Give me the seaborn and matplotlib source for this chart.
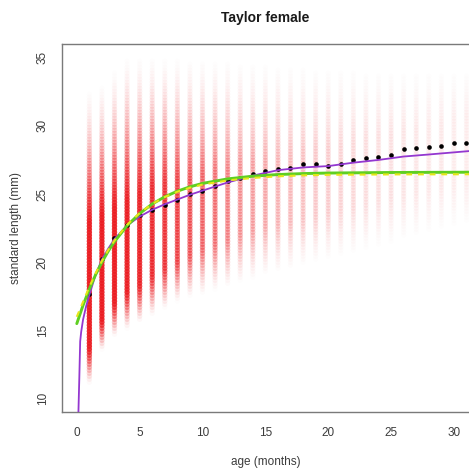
import numpy as np
import pandas as pd
import matplotlib
matplotlib.use("Agg")
import matplotlib.pyplot as plt
import seaborn as sns

# ---- data -------------------------------------------------------------
# mean standard length (mm) at each age (months)
mean_age = list(range(1, 32))
mean_length = [17.7, 20.25, 21.77, 22.7, 23.45, 23.8, 24.22, 24.6, 24.98, 25.23,
               25.6, 25.92, 26.21, 26.46, 26.72, 26.87, 26.94, 27.21, 27.19, 27.09,
               27.19, 27.48, 27.65, 27.75, 27.85, 28.31, 28.41, 28.48, 28.53, 28.77,
               28.73]

# spread of individual lengths at each age: faint lower end, dense core
# (lower, upper), faint upper end, and density of the core
band_age = list(range(1, 32))
band_low = [11.0, 13.5, 14.5, 15.0, 15.5, 16.0, 16.5, 17.0, 17.3, 17.5, 17.8, 18.0,
            18.3, 18.5, 18.8, 19.0, 19.2, 19.4, 19.6, 19.8, 20.0, 20.2, 20.4, 20.6,
            20.8, 21.0, 21.2, 21.4, 21.6, 21.8, 22.0]
core_low = [13.7, 15.7, 17.0, 17.8, 18.3, 19.0, 19.5, 20.0, 20.5, 21.0, 21.3, 21.6,
            22.0, 22.3, 22.6, 22.8, 23.0, 23.2, 23.4, 23.6, 23.8, 24.0, 24.2, 24.4,
            24.6, 24.8, 25.0, 25.2, 25.4, 25.6, 25.8]
core_high = [23.0, 23.5, 24.0, 24.5, 25.0, 25.5, 25.8, 26.0, 26.2, 26.4, 26.6, 26.8,
             27.0, 27.2, 27.4, 27.6, 27.8, 28.0, 28.2, 28.4, 28.6, 28.8, 29.0, 29.2,
             29.4, 29.6, 29.8, 30.0, 30.2, 30.4, 30.6]
band_high = [33.5, 34.0, 35.0] + [36.0] * 28
core_density = [0.92, 0.92, 0.9, 0.88, 0.82, 0.75, 0.68, 0.6, 0.52, 0.45, 0.4, 0.34,
                0.29, 0.25, 0.22, 0.19, 0.17, 0.15, 0.13, 0.12, 0.1, 0.09, 0.08,
                0.075, 0.07, 0.06, 0.055, 0.05, 0.05, 0.045, 0.045]

# fitted growth curves
smooth_age = [0.13, 0.2, 0.27, 0.35, 0.5, 0.75, 1.0, 1.5, 2.0, 2.5, 3.0, 4.0, 5.0,
              6.0, 7.0, 8.0, 9.0, 10.0, 12.0, 14.0, 16.0, 18.0, 20.0, 22.0, 24.0,
              26.0, 28.0, 31.2]
smooth_length = [9.0, 11.5, 14.2, 14.9, 15.8, 16.8, 17.6, 19.1, 20.2, 21.0, 21.7,
                 22.7, 23.35, 23.85, 24.25, 24.6, 24.95, 25.25, 25.85, 26.35, 26.75,
                 26.95, 27.05, 27.3, 27.5, 27.75, 27.9, 28.15]

vb_age = [0.0, 0.5, 1.0, 1.5, 2.0, 2.5, 3.0, 4.0, 5.0, 6.0, 7.0, 8.0, 9.0, 10.0,
          12.0, 14.0, 16.0, 18.0, 20.0, 25.0, 31.2]
vb_length = [15.5, 16.85, 18.04, 19.09, 20.0, 20.81, 21.51, 22.68, 23.57, 24.27,
             24.8, 25.21, 25.53, 25.78, 26.11, 26.31, 26.43, 26.5, 26.54, 26.58, 26.6]
vb2_length = [16.0, 17.1, 18.2, 19.2, 20.1, 20.9, 21.6, 22.75, 23.6, 24.28, 24.78,
              25.17, 25.46, 25.69, 26.0, 26.18, 26.3, 26.37, 26.41, 26.44, 26.45]

x_ticks = [0, 5, 10, 15, 20, 25, 30]
y_ticks = [10, 15, 20, 25, 30, 35]

# ---- style -------------------------------------------------------------
sns.set_theme(style="white")
plt.rcParams["font.family"] = ["Liberation Sans", "DejaVu Sans"]

W, H = 469, 475
fig = plt.figure(figsize=(W / 100, H / 100), dpi=100)
ax = fig.add_axes([61.7 / W, (H - 412.3) / H, (W - 61.7) / W, (412.3 - 44.0) / H])

# ---- individual lengths: one translucent column of dots per age --------
levels = np.arange(9.0, 36.01, 0.22)
rows = []
for a, lo, clo, chi, hi, d in zip(band_age, band_low, core_low, core_high,
                                  band_high, core_density):
    rise = np.interp(levels, [lo, clo], [0.0, 1.0])
    fall = np.interp(levels, [chi, hi], [1.0, 0.0])
    alpha = d * np.minimum(rise ** 1.5, fall ** 2.2)
    for yv, al in zip(levels, alpha):
        if al > 0.006:
            rows.append((a, yv, al))
cloud = pd.DataFrame(rows, columns=["age", "length", "alpha"])
rgba = np.zeros((len(cloud), 4))
rgba[:, 0], rgba[:, 1], rgba[:, 2] = 0.92, 0.11, 0.13
rgba[:, 3] = cloud["alpha"].to_numpy()
ax.scatter(cloud["age"], cloud["length"], s=15, c=rgba, linewidths=0, zorder=1)

# ---- means and curves --------------------------------------------------
sns.scatterplot(x=mean_age, y=mean_length, ax=ax, color="black", s=11,
                linewidth=0, zorder=3)
sns.lineplot(x=smooth_age, y=smooth_length, ax=ax, color="#9437D0",
             linewidth=1.3, sort=False, estimator=None, zorder=4)
sns.lineplot(x=vb_age, y=vb_length, ax=ax, color="#5FCF22",
             linewidth=2.1, sort=False, estimator=None, zorder=5)
sns.lineplot(x=vb_age, y=vb2_length, ax=ax, color="#E6E61A",
             linewidth=1.5, sort=False, estimator=None, zorder=6,
             linestyle=(0, (2.8, 2.8)))

# ---- axes --------------------------------------------------------------
ax.set_xlim(-1.2, 31.2)
ax.set_ylim(9.0, 36.0)
ax.set_xticks(x_ticks)
ax.set_yticks(y_ticks)
for side in ["left", "top", "bottom"]:
    ax.spines[side].set_color("#7a7a7a")
    ax.spines[side].set_linewidth(1.0)
ax.spines["right"].set_visible(False)
ax.tick_params(axis="both", direction="out", length=4.2, width=0.9,
               color="#7a7a7a", labelcolor="#3c3c3c", labelsize=8.5)
ax.tick_params(axis="x", pad=6.5)
ax.tick_params(axis="y", pad=5.0, labelrotation=90)
for lab in ax.get_yticklabels():
    lab.set_va("center")
ax.grid(False)

ax.set_xlabel("age (months)", fontsize=8.5, color="#3c3c3c")
ax.set_ylabel("standard length (mm)", fontsize=8.5, color="#3c3c3c")
ax.xaxis.set_label_coords(0.5, -0.118)
ax.yaxis.set_label_coords(-0.098, 0.5)
ax.set_title("Taylor female", fontsize=10, fontweight="bold", color="#1a1a1a",
             pad=16)

fig.savefig("out.png", dpi=100)
